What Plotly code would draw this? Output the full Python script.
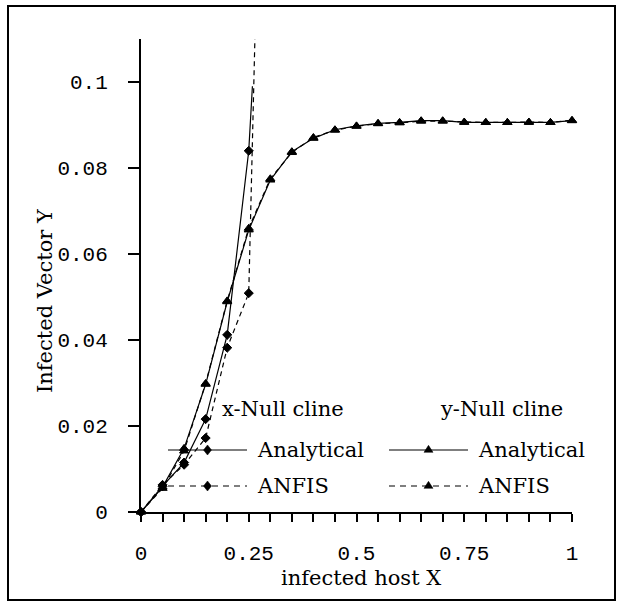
import plotly.graph_objects as go

# ---------------- data ----------------
# y-Null cline (Analytical & ANFIS) sampled every 0.05
y_null_x = [0, 0.05, 0.1, 0.15, 0.2, 0.25, 0.3, 0.35, 0.4, 0.45, 0.5,
            0.55, 0.6, 0.65, 0.7, 0.75, 0.8, 0.85, 0.9, 0.95, 1.0]
y_null_analytical = [0, 0.0058, 0.0148, 0.0297, 0.0489, 0.0656, 0.0772, 0.0838, 0.0869, 0.0889, 0.0898,
                     0.0904, 0.0906, 0.0910, 0.0910, 0.0906, 0.0906, 0.0906, 0.0906, 0.0906, 0.0910]
y_null_anfis = [0, 0.0055, 0.0142, 0.0299, 0.0491, 0.0660, 0.0775, 0.0836, 0.0871, 0.0888, 0.0897,
                0.0903, 0.0905, 0.0909, 0.0909, 0.0907, 0.0906, 0.0906, 0.0907, 0.0906, 0.0911]

# x-Null cline
x_null_analytical_x = [0, 0.05, 0.1, 0.15, 0.2, 0.25, 0.2585]
x_null_analytical_y = [0, 0.0060, 0.0115, 0.0216, 0.0412, 0.0840, 0.0990]
x_null_anfis_x = [0, 0.05, 0.1, 0.15, 0.2, 0.25, 0.2645]
x_null_anfis_y = [0, 0.0063, 0.0110, 0.0172, 0.0382, 0.0509, 0.1110]

x_tick_vals = [0, 0.05, 0.1, 0.15, 0.2, 0.25, 0.3, 0.35, 0.4, 0.45, 0.5,
               0.55, 0.6, 0.65, 0.7, 0.75, 0.8, 0.85, 0.9, 0.95, 1.0]
x_tick_text = ["0", "", "", "", "", "0.25", "", "", "", "", "0.5",
               "", "", "", "", "0.75", "", "", "", "", "1"]
y_tick_vals = [0, 0.02, 0.04, 0.06, 0.08, 0.1]
y_tick_text = ["0", "0.02", "0.04", "0.06", "0.08", "0.1"]

x_title = "infected host X"
y_title = "Infected Vector Y"
group_titles = ["x-Null cline", "y-Null cline"]
series_names = ["Analytical", "ANFIS"]

# ---------------- layout geometry ----------------
W, H = 622, 607
L, R, T, B = 141, 50, 39, 95
PW, PH = W - L - R, H - T - B
BASE = H - B


def px(x):
    return (x - L) / PW


def py(y):
    return (BASE - y) / PH


SERIF = "DejaVu Serif"
MONO = "Liberation Mono"
DASH = "5px,4px"
FS = 21

fig = go.Figure()


def add(xs, ys, dash, symbol, size, msizes=None):
    fig.add_trace(go.Scatter(
        x=xs, y=ys, mode="lines+markers",
        line=dict(color="black", width=1.2, dash=dash),
        marker=dict(symbol=symbol, color="black", size=msizes if msizes else size,
                    opacity=1, line=dict(width=1, color="black")),
        cliponaxis=False, showlegend=False, hoverinfo="skip"))


n1 = len(x_null_analytical_x)
n2 = len(x_null_anfis_x)
add(y_null_x, y_null_anfis, DASH, "triangle-up", 8)
add(y_null_x, y_null_analytical, "solid", "triangle-up", 8)
add(x_null_anfis_x, x_null_anfis_y, DASH, "diamond", 7, [7] * (n2 - 1) + [0])
add(x_null_analytical_x, x_null_analytical_y, "solid", "diamond", 7, [7] * (n1 - 1) + [0])

shapes = []
annotations = []

# outer border
shapes.append(dict(type="rect", xref="paper", yref="paper",
                   x0=px(8), x1=px(615), y0=py(600), y1=py(6),
                   line=dict(color="black", width=2)))


def diamond(cx, cy, hw=4, hh=5):
    return (f"M{px(cx - hw)},{py(cy)} L{px(cx)},{py(cy - hh)} "
            f"L{px(cx + hw)},{py(cy)} L{px(cx)},{py(cy + hh)} Z")


def triangle(cx, cy, hw=4.5, h=7):
    return (f"M{px(cx - hw)},{py(cy + h / 3)} L{px(cx + hw)},{py(cy + h / 3)} "
            f"L{px(cx)},{py(cy - 2 * h / 3)} Z")


legend_rows = [450, 486]
col_line = [(168, 247), (389, 468)]
col_text = [255, 476]
col_title = [220, 438]
for c in range(2):
    annotations.append(dict(xref="paper", yref="paper", x=px(col_title[c]), y=py(409),
                            xanchor="left", yanchor="middle", showarrow=False,
                            text=group_titles[c], font=dict(family=SERIF, size=FS, color="black")))
    for r in range(2):
        yrow = legend_rows[r]
        x0, x1 = col_line[c]
        shapes.append(dict(type="line", xref="paper", yref="paper",
                           x0=px(x0), x1=px(x1), y0=py(yrow), y1=py(yrow),
                           line=dict(color="black", width=1.2,
                                     dash="solid" if r == 0 else "6px,5px")))
        cx = (x0 + x1) / 2
        path = diamond(cx, yrow) if c == 0 else triangle(cx, yrow)
        shapes.append(dict(type="path", xref="paper", yref="paper", path=path,
                           fillcolor="black", line=dict(color="black", width=0.5)))
        annotations.append(dict(xref="paper", yref="paper", x=px(col_text[c]), y=py(yrow),
                                xanchor="left", yanchor="middle", showarrow=False,
                                text=series_names[r], font=dict(family=SERIF, size=FS, color="black")))

# axis titles
annotations.append(dict(xref="paper", yref="paper", x=px(361), y=py(578),
                        xanchor="center", yanchor="middle", showarrow=False,
                        text=x_title, font=dict(family=SERIF, size=FS, color="black")))
annotations.append(dict(xref="paper", yref="paper", x=px(45), y=py(301),
                        xanchor="center", yanchor="middle", showarrow=False, textangle=-90,
                        text=y_title, font=dict(family=SERIF, size=FS, color="black")))

fig.update_layout(
    width=W, height=H,
    margin=dict(l=L, r=R, t=T, b=B, pad=0),
    paper_bgcolor="white", plot_bgcolor="white",
    showlegend=False,
    shapes=shapes, annotations=annotations,
    xaxis=dict(range=[0, 1], showgrid=False, zeroline=False,
               showline=True, linecolor="black", linewidth=2,
               ticks="outside", ticklen=8, tickwidth=1.5, tickcolor="black",
               tickvals=x_tick_vals, ticktext=x_tick_text, ticklabelstandoff=13,
               tickfont=dict(family=MONO, size=21, color="black")),
    yaxis=dict(range=[0, 0.11], showgrid=False, zeroline=False,
               showline=True, linecolor="black", linewidth=2,
               ticks="outside", ticklen=11, tickwidth=1.5, tickcolor="black",
               tickvals=y_tick_vals, ticktext=y_tick_text, ticklabelstandoff=16,
               tickfont=dict(family=MONO, size=21, color="black")),
)

fig.write_html("out.html")
